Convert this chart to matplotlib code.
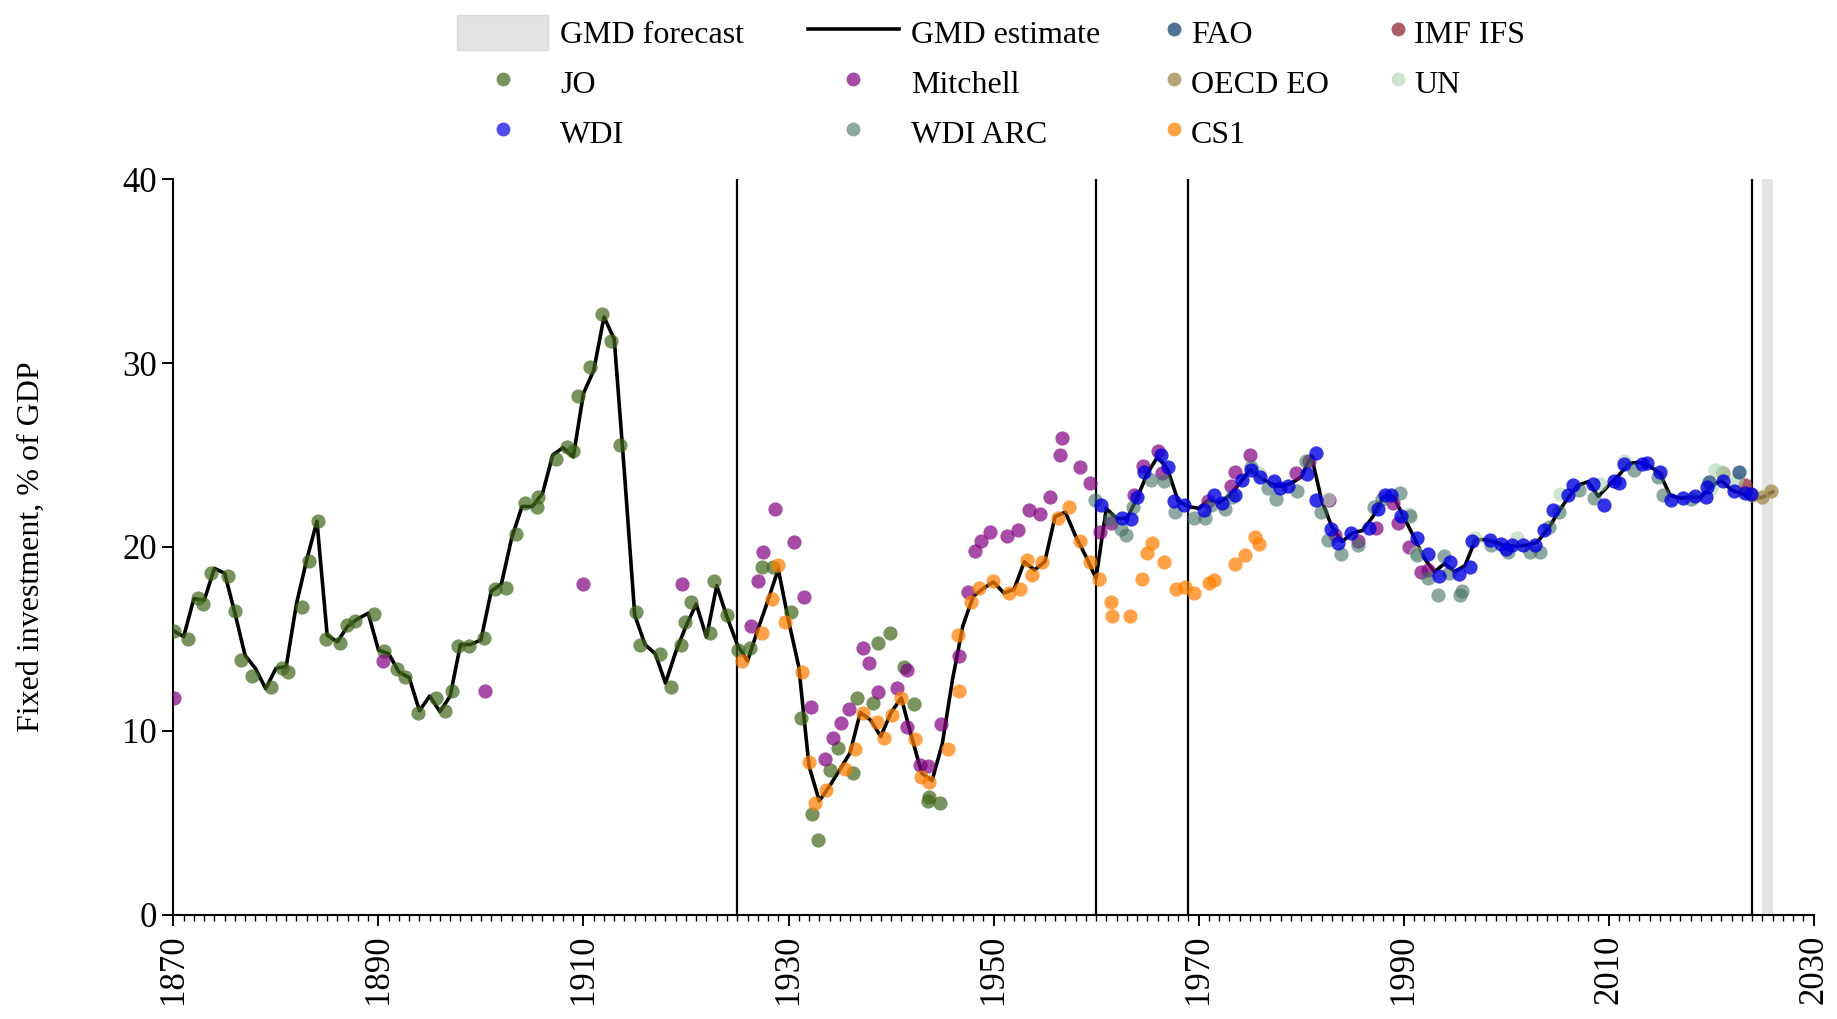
import numpy as np
import matplotlib
matplotlib.use("Agg")
import matplotlib.pyplot as plt
from matplotlib.patches import Patch
from matplotlib.lines import Line2D

plt.rcParams['font.family'] = ['Liberation Serif', 'DejaVu Serif']

# GMD estimate, one value per year 1870-2026
years = np.arange(1870, 2027)
gmd = [15.45, 15.13, 17.2, 17.1, 18.84, 18.57, 16.4, 14.1, 13.4, 12.3,
       13.4, 13.5, 16.9, 19.3, 21.4, 15.2, 14.85, 15.7, 16.1, 16.4,
       14.4, 14.2, 13.2, 12.9, 11.1, 11.9, 11.05, 11.9, 14.7, 14.7,
       14.95, 17.6, 18.0, 20.5, 22.2, 22.2, 22.9, 25.0, 25.4, 24.9,
       28.35, 29.6, 32.5, 31.3, 24.0, 16.3, 14.7, 14.2, 12.6, 14.3,
       15.7, 16.9, 15.1, 17.9, 16.2, 14.7, 13.8, 15.5, 17.1, 18.8,
       16.0, 13.5, 8.1, 6.2, 7.0, 7.9, 8.8, 11.0, 10.6, 9.7,
       11.0, 11.8, 9.7, 7.7, 7.3, 9.3, 12.8, 15.7, 17.3, 17.75,
       18.1, 17.5, 17.7, 19.2, 18.75, 19.2, 21.65, 21.9, 20.6, 19.5,
       18.3, 22.1, 21.55, 21.55, 22.65, 24.0, 24.9, 24.2, 22.5, 22.2,
       22.1, 22.55, 22.4, 22.8, 23.45, 24.2, 23.8, 23.45, 23.3, 23.45,
       23.8, 24.95, 22.55, 21.1, 20.3, 20.75, 20.9, 21.65, 22.7, 22.75,
       21.65, 20.55, 19.4, 18.65, 19.1, 18.65, 19.0, 20.4, 20.4, 20.25,
       20.05, 20.05, 20.1, 20.25, 20.9, 21.8, 22.65, 23.35, 23.55, 22.75,
       23.35, 23.9, 24.55, 24.6, 24.4, 24.0, 22.8, 22.65, 22.7, 22.7,
       23.3, 23.6, 23.1, 22.9, 22.6, 22.7, 23.0]

# source points (x positions as read, slightly spread around the year)
jo_x = [1870.06, 1871.46, 1872.37, 1872.92, 1873.67, 1875.3, 1876.04, 1876.56, 1877.64, 1879.52,
        1880.56, 1881.2, 1882.5, 1883.26, 1884.14, 1884.9, 1886.25, 1886.9, 1887.7, 1889.6,
        1890.5, 1891.8, 1892.6, 1893.9, 1895.6, 1896.5, 1897.2, 1897.8, 1898.8, 1900.3,
        1901.4, 1902.4, 1903.4, 1904.3, 1905.5, 1905.6, 1907.3, 1908.4, 1909.0, 1909.5,
        1910.6, 1911.8, 1912.7, 1913.6, 1915.1, 1915.5, 1917.5, 1918.5, 1919.55, 1919.9,
        1920.5, 1922.3, 1922.7, 1924.0, 1925.1, 1926.25, 1927.45, 1928.5, 1930.2, 1931.25,
        1932.3, 1932.9, 1934.0, 1934.8, 1936.3, 1936.7, 1938.2, 1938.7, 1939.9, 1941.3,
        1942.2, 1943.6, 1943.7, 1944.8]
jo_y = [15.45, 15.0, 17.25, 16.9, 18.6, 18.4, 16.5, 13.85, 13.0, 12.4,
        13.45, 13.2, 16.75, 19.25, 21.4, 15.0, 14.8, 15.75, 16.0, 16.35,
        14.35, 13.35, 12.95, 11.0, 11.8, 11.1, 12.2, 14.6, 14.6, 15.05,
        17.7, 17.75, 20.7, 22.4, 22.15, 22.7, 24.8, 25.45, 25.2, 28.2,
        29.8, 32.65, 31.2, 25.55, 16.45, 14.7, 14.2, 12.4, 14.65, 15.95,
        17.0, 15.3, 18.15, 16.3, 14.4, 14.5, 18.9, 18.9, 16.45, 10.7,
        5.47, 4.1, 7.9, 9.1, 7.7, 11.8, 11.5, 14.8, 15.3, 13.5,
        11.45, 6.2, 6.4, 6.1]

mitchell_x = [1870.1, 1890.4, 1900.4, 1910.0, 1919.65, 1926.3, 1927.0, 1927.55, 1928.7, 1930.55,
              1931.5, 1932.2, 1933.6, 1934.3, 1935.1, 1935.9, 1937.3, 1937.9, 1938.7, 1940.6,
              1941.6, 1941.6, 1942.8, 1943.6, 1944.9, 1946.6, 1947.5, 1948.2, 1948.8, 1949.7,
              1951.3, 1952.4, 1953.5, 1954.5, 1955.5, 1956.5, 1956.7, 1958.4, 1959.45, 1960.4,
              1961.5, 1963.7, 1964.6, 1966.0, 1966.4, 1970.9, 1973.2, 1973.6, 1975.0, 1979.5,
              1980.8, 1982.7, 1983.3, 1985.6, 1987.3, 1989.0, 1989.5, 1990.5, 1991.7, 1992.4]
mitchell_y = [11.8, 13.8, 12.2, 18.0, 18.0, 15.7, 18.15, 19.75, 22.05, 20.25,
              17.3, 11.3, 8.5, 9.6, 10.45, 11.2, 14.5, 13.7, 12.1, 12.35,
              13.3, 10.2, 8.15, 8.1, 10.4, 14.1, 17.55, 19.8, 20.3, 20.8,
              20.6, 20.95, 22.0, 21.8, 22.7, 25.0, 25.9, 24.35, 23.5, 20.8,
              21.3, 22.8, 24.4, 25.2, 24.0, 22.5, 23.3, 24.05, 25.0, 24.0,
              24.7, 22.55, 20.65, 20.3, 21.05, 22.4, 21.3, 20.0, 18.65, 18.75]

cs1_x = [1925.5, 1927.45, 1928.4, 1929.0, 1929.7, 1931.3, 1932.0, 1932.6, 1933.7, 1935.5,
         1936.5, 1937.25, 1938.6, 1939.3, 1940.1, 1940.96, 1942.3, 1942.9, 1943.7, 1945.6,
         1946.6, 1946.5, 1947.8, 1948.6, 1949.9, 1951.55, 1952.6, 1953.25, 1953.8, 1954.7,
         1956.3, 1957.4, 1958.45, 1959.4, 1960.3, 1961.5, 1961.6, 1963.35, 1964.5, 1964.95,
         1965.5, 1966.6, 1967.8, 1968.7, 1969.6, 1971.0, 1971.55, 1973.6, 1974.55, 1975.5,
         1975.9]
cs1_y = [13.8, 15.35, 17.2, 19.0, 15.95, 13.2, 8.3, 6.1, 6.8, 7.95,
         9.0, 11.0, 10.5, 9.6, 10.85, 11.8, 9.55, 7.5, 7.25, 9.0,
         12.2, 15.2, 17.0, 17.75, 18.15, 17.5, 17.7, 19.3, 18.5, 19.2,
         21.6, 22.2, 20.3, 19.2, 18.25, 17.0, 16.25, 16.25, 18.25, 19.7,
         20.2, 19.2, 17.7, 17.8, 17.5, 18.05, 18.2, 19.05, 19.55, 20.55,
         20.15]

wdi_x = [1960.5, 1962.5, 1963.4, 1964.0, 1964.7, 1966.3, 1967.0, 1967.6, 1968.6, 1970.5,
         1971.5, 1972.3, 1973.6, 1974.2, 1975.1, 1976.0, 1977.4, 1977.9, 1978.7, 1980.6,
         1981.5, 1981.5, 1982.9, 1983.6, 1984.9, 1986.6, 1987.5, 1988.2, 1988.8, 1989.7,
         1991.3, 1992.4, 1993.5, 1994.5, 1995.45, 1996.5, 1996.7, 1998.4, 1999.5, 2000.0,
         2000.6, 2001.6, 2002.8, 2003.65, 2004.6, 2006.0, 2006.5, 2008.5, 2009.5, 2010.5,
         2011.0, 2011.5, 2013.3, 2013.7, 2015.0, 2016.1, 2017.25, 2018.45, 2019.5, 2019.6,
         2021.15, 2022.2, 2023.3, 2023.9]
wdi_y = [22.3, 21.6, 21.5, 22.7, 24.05, 25.0, 24.35, 22.5, 22.3, 22.0,
         22.85, 22.4, 22.85, 23.65, 24.2, 23.8, 23.6, 23.2, 23.3, 23.95,
         25.1, 22.55, 21.0, 20.2, 20.75, 21.05, 22.05, 22.8, 22.8, 21.7,
         20.5, 19.6, 18.45, 19.2, 18.55, 18.9, 20.3, 20.4, 20.15, 19.9,
         20.1, 20.1, 20.1, 20.9, 22.0, 22.85, 23.35, 23.45, 22.3, 23.6,
         23.5, 24.5, 24.5, 24.55, 24.1, 22.55, 22.65, 22.75, 22.7, 23.25,
         23.6, 23.05, 22.95, 22.9]

wdiarc_x = [1959.9, 1961.4, 1962.4, 1962.9, 1963.6, 1965.4, 1966.6, 1967.7, 1969.6, 1970.6,
            1971.2, 1972.6, 1973.3, 1975.1, 1976.8, 1977.6, 1979.6, 1980.5, 1981.9, 1982.6,
            1983.9, 1985.6, 1987.1, 1987.9, 1989.6, 1990.6, 1991.3, 1992.4, 1993.4, 1993.9,
            1994.4, 1995.5, 1995.7, 1998.5, 2000.2, 2002.3, 2003.3, 2004.2, 2005.2, 2007.1,
            2008.6, 2012.5, 2014.8, 2015.3, 2018.0]
wdiarc_y = [22.55, 21.5, 21.0, 20.65, 22.15, 23.65, 23.6, 21.9, 21.6, 21.6,
            22.3, 22.05, 22.7, 24.35, 23.2, 22.6, 23.05, 24.65, 21.9, 20.4,
            19.6, 20.1, 22.15, 22.6, 22.95, 21.7, 19.55, 18.3, 17.4, 19.5,
            18.6, 17.4, 17.6, 20.1, 19.75, 19.75, 19.75, 21.1, 21.9, 23.1,
            22.65, 24.2, 23.8, 22.8, 22.6]

un_x = [1975.9, 1982.6, 1990.5, 1991.2, 1997.0, 2001.1, 2005.3, 2009.2, 2011.5, 2020.0,
        2020.4, 2021.1, 2022.4]
un_y = [24.0, 22.6, 21.8, 19.7, 20.5, 20.5, 22.9, 23.4, 24.7, 23.2,
        24.2, 24.1, 23.65]

fao_x = [2019.75, 2022.7]
fao_y = [23.55, 24.05]

imf_x = [2023.3]
imf_y = [23.35]

oecd_x = [2021.2, 2024.0, 2024.95, 2025.8]
oecd_y = [24.0, 22.85, 22.7, 23.05]

breaks = [1925, 1960, 1969, 2024]
forecast_span = (2025, 2026)

col_jo = '#41661a'
col_mitchell = '#800080'
col_cs1 = '#ff7f00'
col_wdi = '#0000e0'
col_wdiarc = '#3f6e61'
col_un = '#acd2b1'
col_fao = '#24507c'
col_imf = '#95373d'
col_oecd = '#a78e56'
col_fc = '#e3e3e3'

fig = plt.figure(figsize=(18.37, 10.19), dpi=100)
ax = fig.add_axes([0.0944, 0.1021, 0.8929, 0.7222])

ax.axvspan(forecast_span[0], forecast_span[1], color=col_fc, lw=0, zorder=0)
for b in breaks:
    ax.axvline(b, color='black', lw=1.6, zorder=1)

ax.plot(years, gmd, color='black', lw=2.6, zorder=2)

s = 105
ax.scatter(jo_x, jo_y, s=s, color=col_jo, alpha=0.7, lw=0, zorder=3)
ax.scatter(mitchell_x, mitchell_y, s=s, color=col_mitchell, alpha=0.7, lw=0, zorder=3)
ax.scatter(cs1_x, cs1_y, s=s, color=col_cs1, alpha=0.72, lw=0, zorder=3)
ax.scatter(oecd_x, oecd_y, s=s, color=col_oecd, alpha=0.8, lw=0, zorder=3)
ax.scatter(imf_x, imf_y, s=s, color=col_imf, alpha=0.8, lw=0, zorder=3)
ax.scatter(un_x, un_y, s=s, color=col_un, alpha=0.6, lw=0, zorder=3)
ax.scatter(fao_x, fao_y, s=s, color=col_fao, alpha=0.8, lw=0, zorder=3)
ax.scatter(wdiarc_x, wdiarc_y, s=s, color=col_wdiarc, alpha=0.6, lw=0, zorder=3)
ax.scatter(wdi_x, wdi_y, s=s, color=col_wdi, alpha=0.8, lw=0, zorder=3)

ax.set_xlim(1870, 2030)
ax.set_ylim(0, 40)
ax.set_xticks(np.arange(1870, 2031, 20))
ax.set_xticks(np.arange(1870, 2031, 1), minor=True)
ax.set_yticks([0, 10, 20, 30, 40])
ax.tick_params(axis='x', which='major', labelsize=25, length=8, width=1.4, rotation=90, pad=6)
ax.tick_params(axis='x', which='minor', length=4, width=1.0)
ax.tick_params(axis='y', which='major', labelsize=25, length=8, width=1.4, pad=4)
for sp in ['top', 'right']:
    ax.spines[sp].set_visible(False)
for sp in ['left', 'bottom']:
    ax.spines[sp].set_linewidth(1.5)

ax.set_ylabel('Fixed investment, % of GDP', fontsize=23)
ax.yaxis.set_label_coords(-0.078, 0.5)

# legend: two blocks, the left one with long handles
h_fc = Patch(facecolor=col_fc, edgecolor='#dadada', lw=1)
h_line = Line2D([], [], color='black', lw=2.6)

def dot(c, a):
    return Line2D([], [], marker='o', ls='', color=c, alpha=a, markersize=10, markeredgewidth=0)

leg_kw = dict(ncol=2, loc='upper left', frameon=False, fontsize=23, handleheight=1.3,
              labelspacing=0.47, borderpad=0, borderaxespad=0)
leg1 = fig.legend([h_fc, dot(col_jo, 0.7), dot(col_wdi, 0.7),
                   h_line, dot(col_mitchell, 0.7), dot(col_wdiarc, 0.6)],
                  ['GMD forecast', 'JO', 'WDI', 'GMD estimate', 'Mitchell', 'WDI ARC'],
                  bbox_to_anchor=(0.2488, 0.9855), handlelength=2.85,
                  handletextpad=0.375, columnspacing=2.0, **leg_kw)
leg2 = fig.legend([dot(col_fao, 0.8), dot(col_oecd, 0.8), dot(col_cs1, 0.72),
                   dot(col_imf, 0.8), dot(col_un, 0.6)],
                  ['FAO', 'OECD EO', 'CS1', 'IMF IFS', 'UN'],
                  bbox_to_anchor=(0.6347, 0.9855), handlelength=0.5,
                  handletextpad=0.28, columnspacing=1.9, **leg_kw)

fig.savefig('out.png', dpi=100)
